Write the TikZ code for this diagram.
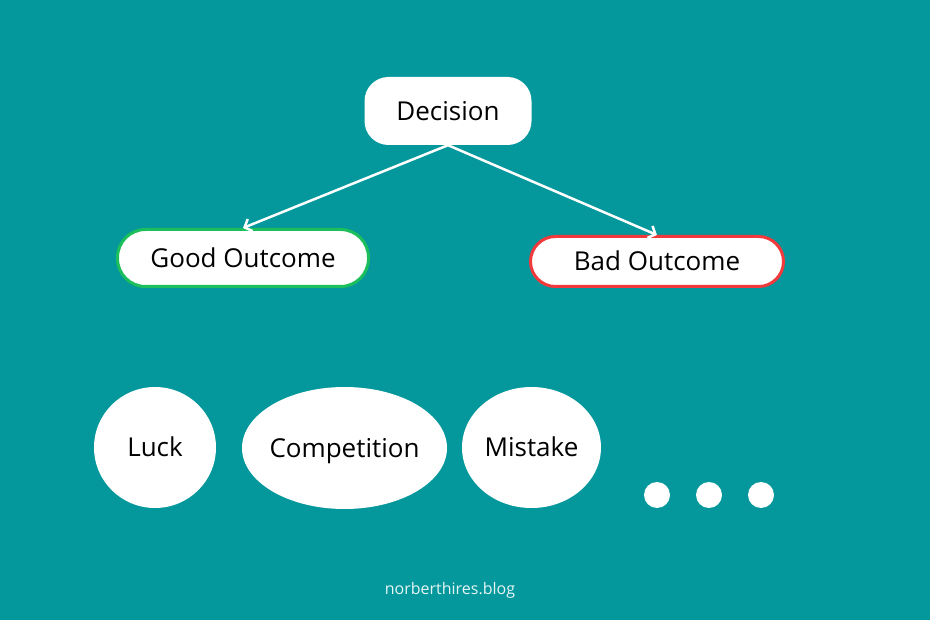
\documentclass[tikz,border=0pt]{standalone}
\usepackage{fontspec}
\setmainfont{Open Sans}
\usetikzlibrary{arrows.meta,shapes.geometric}
\definecolor{bgteal}{HTML}{04979B}
\definecolor{goodgreen}{HTML}{1DBE5C}
\definecolor{badred}{HTML}{F2393B}
\tikzset{
  txt/.style={font=\fontsize{26}{30}\selectfont, text height=18.6pt, text depth=0pt},
  pill/.style={draw=#1, line width=3pt, fill=white, inner sep=0pt, txt},
  bubble/.style={ellipse, fill=white, inner sep=-20pt, txt},
  dotmark/.style={circle, fill=white, minimum size=26pt, inner sep=0pt},
  link/.style={white, line width=2.5pt, -{Straight Barb[length=6pt,width=13pt,line width=2.5pt]}}
}
\begin{document}
\begin{tikzpicture}[x=1pt,y=-1pt]
\fill[bgteal] (0,0) rectangle (930,620);
\useasboundingbox (0,0) rectangle (930,620);
\node[fill=white, rounded corners=24pt, minimum width=167pt, minimum height=68pt, inner sep=0pt, txt] (dec) at (448,111) {Decision};
\node[pill=goodgreen, minimum width=251pt, minimum height=57pt, rounded corners=28pt] (good) at (243,258) {Good Outcome};
\node[pill=badred, minimum width=253pt, minimum height=50pt, rounded corners=25pt] (bad) at (657,261.5) {Bad Outcome};
\coordinate (apex) at (dec.south);
\draw[link] (apex) -- (good.north);
\draw[link] (apex) -- (bad.north);
\node[bubble, minimum width=122pt, minimum height=121pt] (luck) at (155,447.5) {Luck};
\node[bubble, minimum width=205pt, minimum height=122pt] (comp) at (344.5,448) {Competition};
\node[bubble, minimum width=139pt, minimum height=121pt] (mist) at (531.5,447.5) {Mistake};
\node[dotmark] (d1) at (657,495) {};
\node[dotmark] (d2) at (709,495) {};
\node[dotmark] (d3) at (761,495) {};
\node[text=white!90!bgteal, font=\fontsize{16}{19}\selectfont] (foot) at (450,590) {norberthires.blog};
\end{tikzpicture}
\end{document}
